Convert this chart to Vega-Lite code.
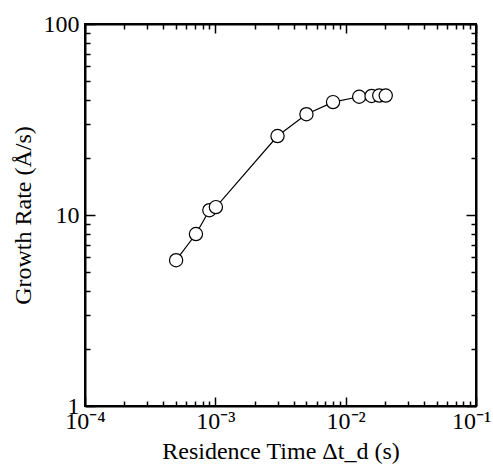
{
  "$schema": "https://vega.github.io/schema/vega-lite/v6.json",
  "width": 391,
  "height": 382,
  "autosize": {"type": "none"},
  "padding": {"left": 85, "top": 24, "right": 17, "bottom": 64},
  "background": "white",
  "config": {
    "view": {"stroke": "black", "strokeWidth": 2},
    "font": "Liberation Serif",
    "axis": {
      "grid": false,
      "domainColor": "black",
      "domainWidth": 2,
      "tickColor": "black",
      "tickWidth": 1.5,
      "labelColor": "black",
      "labelFont": "Liberation Serif",
      "labelFontSize": 24,
      "titleFont": "Liberation Serif",
      "titleFontSize": 24,
      "titleFontWeight": "normal",
      "titleColor": "black",
      "labelFlush": false,
      "labelOverlap": false
    }
  },
  "data": {
    "values": [
      {"t": 0.00050, "rate": 5.8},
      {"t": 0.00071, "rate": 7.95},
      {"t": 0.00090, "rate": 10.6},
      {"t": 0.00101, "rate": 11.0},
      {"t": 0.0030, "rate": 25.9},
      {"t": 0.0050, "rate": 33.7},
      {"t": 0.0080, "rate": 39.0},
      {"t": 0.0127, "rate": 41.6},
      {"t": 0.0158, "rate": 42.0},
      {"t": 0.0181, "rate": 42.2},
      {"t": 0.0203, "rate": 42.2}
    ]
  },
  "resolve": {"axis": {"x": "independent", "y": "independent"}},
  "layer": [
    {
      "mark": {"type": "line", "color": "black", "strokeWidth": 1.2},
      "encoding": {
        "x": {
          "field": "t", "type": "quantitative",
          "scale": {"type": "log", "domain": [0.0001, 0.1], "nice": false},
          "axis": {
            "orient": "bottom",
            "title": "Residence Time Δt_d (s)",
            "titlePadding": 2,
            "tickSize": {"condition": {"test": "abs(log(datum.value)/LN10-round(log(datum.value)/LN10))<1e-6", "value": -9}, "value": -5},
            "labelPadding": 12,
            "labelOffset": {"condition": {"test": "datum.value > 0.09", "value": -5}, "value": 0},
            "labelExpr": "abs(log(datum.value)/LN10-round(log(datum.value)/LN10))<1e-6 ? (round(log(datum.value)/LN10)==-4 ? '10⁻⁴' : round(log(datum.value)/LN10)==-3 ? '10⁻³' : round(log(datum.value)/LN10)==-2 ? '10⁻²' : '10⁻¹') : ''"
          }
        },
        "y": {
          "field": "rate", "type": "quantitative",
          "scale": {"type": "log", "domain": [1, 100], "nice": false},
          "axis": {
            "orient": "left",
            "title": "Growth Rate (Å/s)",
            "titlePadding": 8,
            "tickSize": {"condition": {"test": "abs(log(datum.value)/LN10-round(log(datum.value)/LN10))<1e-6", "value": -10}, "value": -5},
            "labelPadding": 16,
            "labelExpr": "abs(log(datum.value)/LN10-round(log(datum.value)/LN10))<1e-6 ? format(datum.value, 'd') : ''"
          }
        }
      }
    },
    {
      "mark": {"type": "point", "shape": "circle", "filled": true, "fill": "white", "stroke": "black", "strokeWidth": 1.2, "size": 175, "opacity": 1},
      "encoding": {
        "x": {"field": "t", "type": "quantitative", "axis": null},
        "y": {"field": "rate", "type": "quantitative", "axis": null}
      }
    },
    {
      "mark": {"type": "point", "opacity": 0},
      "encoding": {
        "x": {
          "field": "t", "type": "quantitative",
          "axis": {
            "orient": "top", "title": null, "labels": false,
            "tickSize": {"condition": {"test": "abs(log(datum.value)/LN10-round(log(datum.value)/LN10))<1e-6", "value": -9}, "value": -5}
          }
        },
        "y": {
          "field": "rate", "type": "quantitative",
          "axis": {
            "orient": "right", "title": null, "labels": false,
            "tickSize": {"condition": {"test": "abs(log(datum.value)/LN10-round(log(datum.value)/LN10))<1e-6", "value": -10}, "value": -5}
          }
        }
      }
    }
  ]
}
